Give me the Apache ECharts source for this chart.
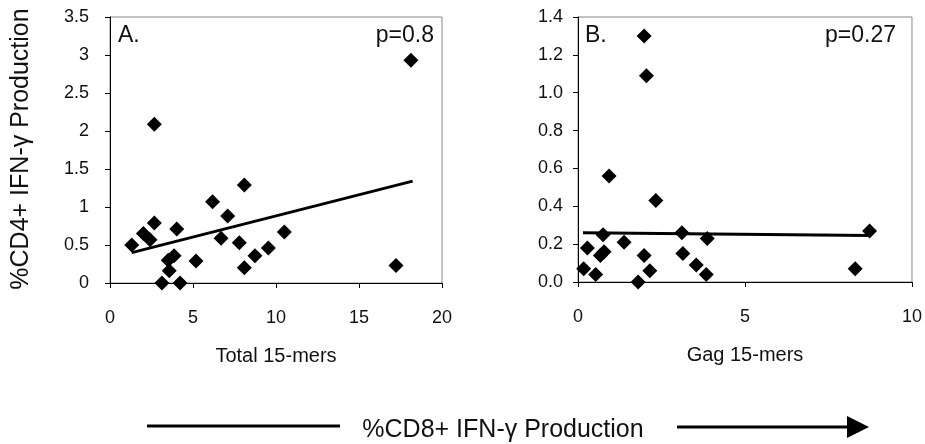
<!DOCTYPE html>
<html>
<head>
<meta charset="utf-8">
<script src="https://cdn.jsdelivr.net/npm/echarts@6/dist/echarts.min.js"></script>
<style>
html,body{margin:0;padding:0;background:#fff;}
#chart{width:925px;height:444px;}
</style>
</head>
<body>
<div id="chart"></div>
<script>
// Panel A: Total 15-mers
const totalX = [18.13, 2.67, 8.09, 6.18, 7.09, 2.67, 4.02, 2.01, 2.41, 1.31, 10.5, 6.69, 7.79, 9.54, 8.73, 3.86, 3.51, 5.18, 3.57, 8.09, 17.23, 3.13, 4.22];
const totalY = [2.93, 2.09, 1.29, 1.07, 0.88, 0.79, 0.71, 0.65, 0.57, 0.50, 0.67, 0.59, 0.53, 0.46, 0.36, 0.36, 0.30, 0.29, 0.16, 0.20, 0.23, 0.0, 0.0];
const totalTrendX = [1.31, 18.23];
const totalTrendY = [0.40, 1.34];
// Panel B: Gag 15-mers
const gagX = [1.98, 2.05, 0.93, 2.33, 0.75, 3.11, 3.87, 8.73, 0.28, 1.38, 0.78, 0.67, 1.98, 3.14, 3.54, 0.17, 0.53, 2.15, 3.84, 1.80, 8.30];
const gagY = [1.30, 1.09, 0.56, 0.43, 0.25, 0.26, 0.23, 0.27, 0.18, 0.21, 0.16, 0.14, 0.14, 0.15, 0.09, 0.07, 0.04, 0.06, 0.04, 0.0, 0.07];
const gagTrendX = [0.15, 8.73];
const gagTrendY = [0.26, 0.246];
// Axis settings / labels
const axisA = {xMin: 0, xMax: 20, xStep: 5, yMin: 0, yMax: 3.5, yStep: 0.5};
const axisB = {xMin: 0, xMax: 10, xStep: 5, yMin: 0, yMax: 1.4, yStep: 0.2};
const xNames = ['Total 15-mers', 'Gag 15-mers'];
const yName = '%CD4+ IFN-\u03b3 Production';
const bottomName = '%CD8+ IFN-\u03b3 Production';
const panelTags = ['A.', 'B.'];
const pTexts = ['p=0.8', 'p=0.27'];

const FONT = 'Liberation Sans, Arial, sans-serif';
const pair = (xs, ys) => xs.map((x, i) => [x, ys[i]]);

function xAxis(idx, a, name) {
  return {
    type: 'value', gridIndex: idx, min: a.xMin, max: a.xMax, interval: a.xStep,
    name: name, nameLocation: 'middle', nameGap: 63,
    nameTextStyle: {fontFamily: FONT, fontSize: 20, color: '#111'},
    axisLine: {show: true, onZero: false, lineStyle: {color: '#000', width: 1}},
    axisTick: {show: true, length: 5, inside: false, lineStyle: {color: '#000'}},
    axisLabel: {fontFamily: FONT, fontSize: 18, color: '#111', margin: 26},
    splitLine: {show: false}
  };
}
function yAxis(idx, a, fmt, margin) {
  return {
    type: 'value', gridIndex: idx, min: a.yMin, max: a.yMax, interval: a.yStep,
    axisLine: {show: true, onZero: false, lineStyle: {color: '#000', width: 1}},
    axisTick: {show: true, length: 5, inside: false, lineStyle: {color: '#000'}},
    axisLabel: {fontFamily: FONT, fontSize: 18, color: '#111', margin: margin, formatter: fmt},
    splitLine: {show: false}
  };
}
const scatterStyle = {color: '#000', opacity: 1};
const lineStyle = {color: '#000', width: 3};

const chart = echarts.init(document.getElementById('chart'), null, {renderer: 'canvas'});
chart.setOption({
  backgroundColor: '#fff',
  animation: false,
  grid: [
    {left: 110, top: 17, width: 332, height: 266, show: true, borderColor: '#888', borderWidth: 1},
    {left: 578, top: 17, width: 334, height: 265, show: true, borderColor: '#888', borderWidth: 1}
  ],
  xAxis: [xAxis(0, axisA, xNames[0]), xAxis(1, axisB, xNames[1])],
  yAxis: [
    yAxis(0, axisA, v => String(v), 21),
    yAxis(1, axisB, v => v.toFixed(1), 15)
  ],
  series: [
    {type: 'scatter', xAxisIndex: 0, yAxisIndex: 0, symbol: 'diamond', symbolSize: 15,
     itemStyle: scatterStyle, data: pair(totalX, totalY)},
    {type: 'line', xAxisIndex: 0, yAxisIndex: 0, showSymbol: false, symbol: 'none',
     lineStyle: lineStyle, data: pair(totalTrendX, totalTrendY)},
    {type: 'scatter', xAxisIndex: 1, yAxisIndex: 1, symbol: 'diamond', symbolSize: 15,
     itemStyle: scatterStyle, data: pair(gagX, gagY)},
    {type: 'line', xAxisIndex: 1, yAxisIndex: 1, showSymbol: false, symbol: 'none',
     lineStyle: lineStyle, data: pair(gagTrendX, gagTrendY)}
  ],
  graphic: [
    {type: 'text', left: 118, top: 24, style: {text: panelTags[0], font: '23px ' + FONT, fill: '#111'}},
    {type: 'text', right: 925 - 434, top: 24, style: {text: pTexts[0], font: '23px ' + FONT, fill: '#111'}},
    {type: 'text', left: 585, top: 24, style: {text: panelTags[1], font: '23px ' + FONT, fill: '#111'}},
    {type: 'text', right: 925 - 896, top: 24, style: {text: pTexts[1], font: '23px ' + FONT, fill: '#111'}},
    {type: 'text', x: 21, y: 149, rotation: Math.PI / 2,
     style: {text: yName, font: '25px ' + FONT, fill: '#111', align: 'center', verticalAlign: 'middle'}},
    {type: 'text', x: 503, y: 430,
     style: {text: bottomName, font: '25px ' + FONT, fill: '#111', align: 'center', verticalAlign: 'middle'}},
    {type: 'line', shape: {x1: 147, y1: 426, x2: 340, y2: 426}, style: {stroke: '#000', lineWidth: 3}},
    {type: 'line', shape: {x1: 677, y1: 427, x2: 850, y2: 427}, style: {stroke: '#000', lineWidth: 3}},
    {type: 'polygon', shape: {points: [[847, 416], [869, 427], [847, 438]]}, style: {fill: '#000'}}
  ]
});
</script>
</body>
</html>
